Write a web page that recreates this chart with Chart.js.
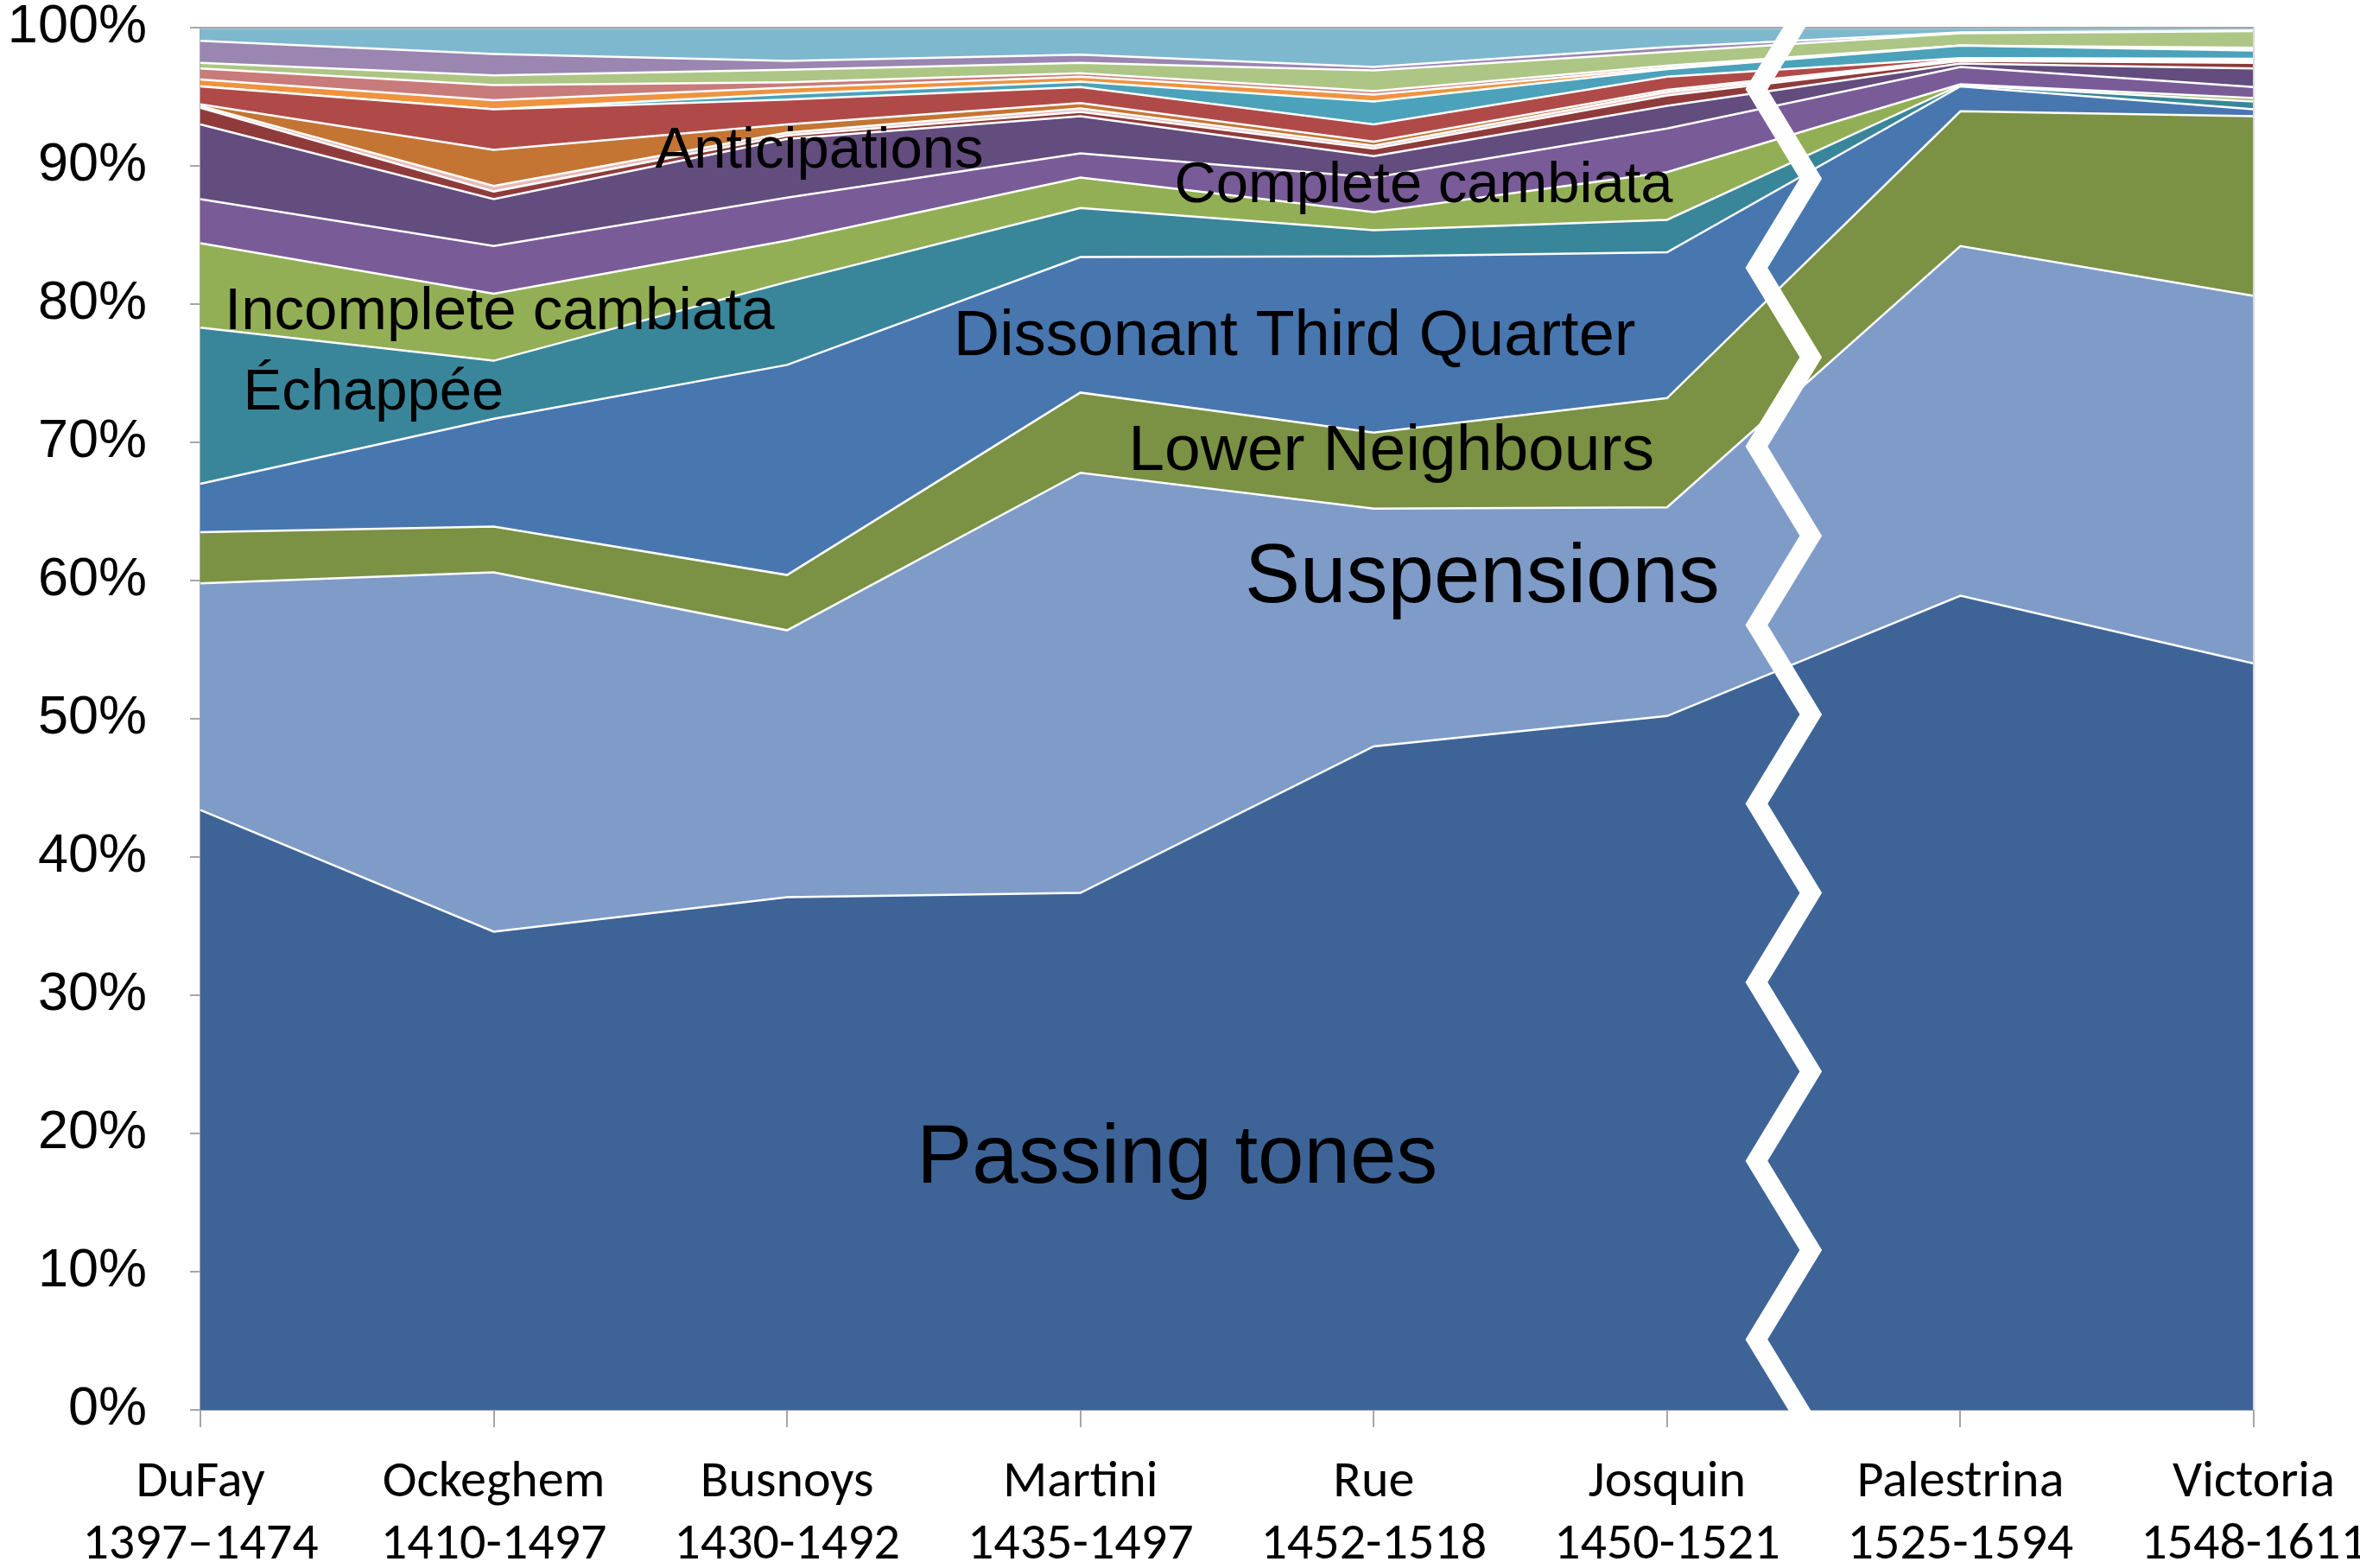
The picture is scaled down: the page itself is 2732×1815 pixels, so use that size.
<!DOCTYPE html>
<html>
<head>
<meta charset="utf-8">
<title>Dissonance types by composer</title>
<script src="https://cdn.jsdelivr.net/npm/chart.js@4.4.1/dist/chart.umd.min.js"></script>
<style>
  html, body { margin: 0; padding: 0; background: #fff; }
</style>
</head>
<body>
<canvas id="chart" width="2732" height="1815"></canvas>
<script>
// Composers and their dates (two-line axis labels)
const composers = [
    ['DuFay', '1397–1474'],
    ['Ockeghem', '1410-1497'],
    ['Busnoys', '1430-1492'],
    ['Martini', '1435-1497'],
    ['Rue', '1452-1518'],
    ['Josquin', '1450-1521'],
    ['Palestrina', '1525-1594'],
    ['Victoria', '1548-1611']
];

// Share of each dissonance type (%), bottom layer first
const passingTones          = [43.4, 34.6, 37.1, 37.4, 48.0, 50.2, 58.9, 54.0];
const suspensions           = [16.4, 26.0, 19.3, 30.4, 17.2, 15.1, 25.3, 26.6];
const lowerNeighbours       = [3.7, 3.3, 4.0, 5.8, 5.5, 7.9, 9.75, 13.0];
const dissonantThirdQuarter = [3.5, 7.8, 15.2, 9.8, 12.75, 10.55, 1.8, 0.5];
const echappee              = [11.3, 4.2, 6.0, 3.55, 1.9, 2.35, 0.1, 0.55];
const incompleteCambiata    = [6.1, 4.85, 3.0, 2.2, 1.3, 3.45, 0.05, 0.25];
const completeCambiata      = [3.2, 3.45, 3.1, 1.75, 2.5, 3.15, 1.25, 0.8];
const anticipations         = [5.4, 3.4, 4.25, 2.7, 1.55, 1.65, 0.25, 1.35];
const otherType1            = [1.2, 0.55, 0.25, 0.3, 0.55, 0.75, 0.2, 0.4];
const otherType2            = [0.15, 0.4, 0.2, 0.25, 0.2, 0.25, 0.0, 0.1];
const otherType3            = [0.1, 2.6, 0.6, 0.4, 0.3, 0.15, 0.1, 0.1];
const otherType4            = [1.3, 2.95, 1.8, 1.15, 1.25, 0.95, 0.1, 0.1];
const otherType5            = [0.0, 0.0, 0.4, 0.4, 1.65, 0.55, 0.9, 0.6];
const otherType6            = [0.5, 0.65, 0.45, 0.35, 0.5, 0.1, 0.0, 0.1];
const otherType7            = [0.8, 1.1, 0.4, 0.25, 0.25, 0.15, 0.0, 0.1];
const otherType8            = [0.4, 0.7, 0.9, 0.75, 1.5, 1.0, 0.9, 1.2];
const otherType9            = [1.6, 1.55, 0.65, 0.6, 0.25, 0.35, 0.05, 0.05];
const otherType10           = [0.95, 1.9, 2.4, 1.95, 2.85, 1.4, 0.35, 0.2];

const yTicks = [0, 10, 20, 30, 40, 50, 60, 70, 80, 90, 100];

const series = [
    { name: 'Passing tones', values: passingTones, color: '#3E6497' },
    { name: 'Suspensions', values: suspensions, color: '#7F9CC8' },
    { name: 'Lower Neighbours', values: lowerNeighbours, color: '#7B9144' },
    { name: 'Dissonant Third Quarter', values: dissonantThirdQuarter, color: '#4877B0' },
    { name: 'Échappée', values: echappee, color: '#39869A' },
    { name: 'Incomplete cambiata', values: incompleteCambiata, color: '#93AF55' },
    { name: 'Complete cambiata', values: completeCambiata, color: '#795C97' },
    { name: 'Anticipations', values: anticipations, color: '#634C7E' },
    { name: 'Other 1', values: otherType1, color: '#8F3B3B' },
    { name: 'Other 2', values: otherType2, color: '#E9B9B8' },
    { name: 'Other 3', values: otherType3, color: '#C47533' },
    { name: 'Other 4', values: otherType4, color: '#B04A48' },
    { name: 'Other 5', values: otherType5, color: '#4BA2BA' },
    { name: 'Other 6', values: otherType6, color: '#EF933F' },
    { name: 'Other 7', values: otherType7, color: '#C87B7A' },
    { name: 'Other 8', values: otherType8, color: '#ADC685' },
    { name: 'Other 9', values: otherType9, color: '#9A86B1' },
    { name: 'Other 10', values: otherType10, color: '#7DB8CF' }
];

const SANS = "'Liberation Sans', Arial, Helvetica, sans-serif";
const NARROW = "'Liberation Sans Narrow', Carlito, 'DejaVu Sans Condensed', 'Open Sans', sans-serif";
const AXIS_GREY = '#A6A6A6';

// Text written inside the areas (x = category index, y = percent)
const areaLabels = [
    { text: 'Passing tones', x: 3.33, y: 18.1, size: 96 },
    { text: 'Suspensions', x: 4.37, y: 60.1, size: 96 },
    { text: 'Lower Neighbours', x: 4.06, y: 69.3, size: 75 },
    { text: 'Dissonant Third Quarter', x: 3.73, y: 77.6, size: 74 },
    { text: 'Incomplete cambiata', x: 1.02, y: 79.4, size: 69 },
    { text: 'Échappée', x: 0.59, y: 73.5, size: 67 },
    { text: 'Anticipations', x: 2.11, y: 91.0, size: 67 },
    { text: 'Complete cambiata', x: 4.17, y: 88.5, size: 67 }
];

// grey frame on top and right of the plot, plus the area labels
const plotFrame = {
    id: 'plotFrame',
    afterDatasetsDraw(chart) {
        const { ctx, chartArea: a, scales } = chart;
        ctx.save();
        ctx.lineWidth = 2;
        ctx.strokeStyle = AXIS_GREY;
        ctx.beginPath();
        ctx.moveTo(a.left, a.top);
        ctx.lineTo(a.right, a.top);
        ctx.stroke();
        ctx.strokeStyle = '#D9D9D9';
        ctx.beginPath();
        ctx.moveTo(a.right, a.top);
        ctx.lineTo(a.right, a.bottom);
        ctx.stroke();

        ctx.fillStyle = '#000';
        ctx.textAlign = 'center';
        ctx.textBaseline = 'middle';
        areaLabels.forEach(function(l) {
            ctx.font = l.size + 'px ' + SANS;
            ctx.fillText(l.text, scales.x.getPixelForValue(l.x), scales.y.getPixelForValue(l.y));
        });
        ctx.restore();
    }
};

// white zig-zag marking the time break between Josquin and Palestrina
const breakMark = {
    id: 'breakMark',
    afterDraw(chart) {
        const { ctx, chartArea: a, scales: { x } } = chart;
        const x5 = x.getPixelForValue(5);
        const gap = x.getPixelForValue(6) - x5;
        const xl = x5 + gap * 0.305;
        const xr = x5 + gap * 0.49;
        ctx.save();
        ctx.strokeStyle = '#fff';
        ctx.lineWidth = 22;
        ctx.lineJoin = 'miter';
        ctx.beginPath();
        for (let i = 0; i <= 16; i++) {
            const px = i % 2 === 0 ? xr : xl;
            const py = a.top + a.height * (-0.02 + i * 0.0646);
            if (i === 0) ctx.moveTo(px, py); else ctx.lineTo(px, py);
        }
        ctx.stroke();
        ctx.restore();
    }
};

document.addEventListener('DOMContentLoaded', function() {
    const ctx = document.getElementById('chart');

    new Chart(ctx, {
        type: 'line',
        data: {
            labels: composers,
            datasets: series.map(function(s, i) {
                return {
                    label: s.name,
                    data: s.values,
                    backgroundColor: s.color,
                    borderColor: '#FFFFFF',
                    borderWidth: 2.5,
                    fill: i === 0 ? 'origin' : '-1',
                    pointRadius: 0,
                    tension: 0
                };
            })
        },
        options: {
            responsive: false,
            animation: false,
            layout: { padding: { left: 10, right: 123, top: 32, bottom: 0 } },
            plugins: {
                legend: { display: false },
                tooltip: { enabled: false },
                title: { display: false }
            },
            scales: {
                x: {
                    offset: false,
                    grid: {
                        drawOnChartArea: false,
                        drawTicks: true,
                        tickLength: 20,
                        color: AXIS_GREY,
                        lineWidth: 2
                    },
                    border: { color: AXIS_GREY, width: 2 },
                    ticks: {
                        autoSkip: false,
                        maxRotation: 0,
                        padding: 29,
                        color: '#000',
                        font: { family: NARROW, size: 60 }
                    },
                    afterFit: function(scale) {
                        scale.height = 183;
                        scale.paddingLeft = 0;
                        scale.paddingRight = 0;
                    }
                },
                y: {
                    stacked: true,
                    min: 0,
                    max: 100,
                    afterBuildTicks: function(scale) {
                        scale.ticks = yTicks.map(function(v) { return { value: v }; });
                    },
                    grid: {
                        drawOnChartArea: false,
                        drawTicks: true,
                        tickLength: 12,
                        color: AXIS_GREY,
                        lineWidth: 2
                    },
                    border: { color: AXIS_GREY, width: 2 },
                    ticks: {
                        padding: 50,
                        color: '#000',
                        font: { family: SANS, size: 63 },
                        callback: function(value) { return value + '%'; }
                    },
                    afterFit: function(scale) {
                        scale.width = 222;
                        scale.paddingTop = 0;
                        scale.paddingBottom = 0;
                    }
                }
            }
        },
        plugins: [plotFrame, breakMark]
    });
});
</script>
</body>
</html>
